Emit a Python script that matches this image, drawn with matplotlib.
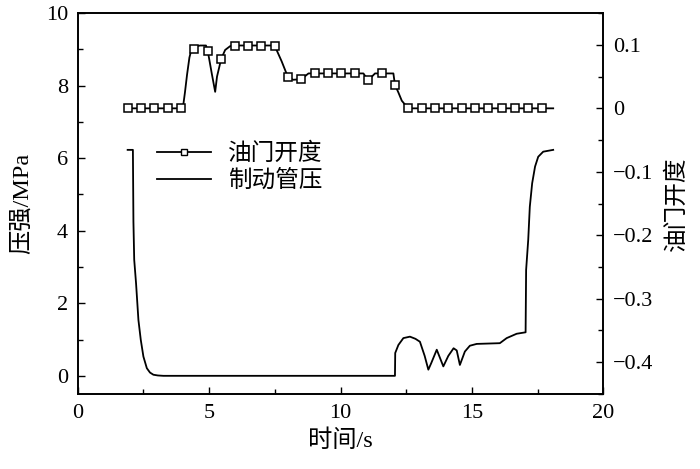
import numpy as np
import matplotlib
matplotlib.use("Agg")
import matplotlib.pyplot as plt
from matplotlib.ticker import MultipleLocator

plt.rcParams['font.family'] = ['Liberation Serif', 'Noto Sans CJK SC']
plt.rcParams['axes.unicode_minus'] = True

# ---------------- data ----------------
# brake pipe pressure (MPa)
press_t = [1.9, 2.1, 2.12, 2.15, 2.22, 2.31, 2.4, 2.5, 2.63, 2.75, 2.88, 3.05, 3.26,
           12.07, 12.08, 12.2, 12.39, 12.64, 12.85, 13.02, 13.2, 13.34, 13.45, 13.66,
           13.91, 14.1, 14.3, 14.42, 14.54, 14.73, 14.92, 15.18, 16.06, 16.32, 16.7,
           17.04, 17.06, 17.14, 17.2, 17.29, 17.4, 17.52, 17.71, 18.09]
press_v = [6.23, 6.23, 4.25, 3.2, 2.55, 1.54, 0.99, 0.53, 0.21, 0.09, 0.03, 0.01, 0.0,
           0.0, 0.63, 0.85, 1.04, 1.08, 1.02, 0.94, 0.55, 0.17, 0.35, 0.72,
           0.26, 0.55, 0.76, 0.7, 0.3, 0.67, 0.83, 0.88, 0.9, 1.04, 1.16,
           1.2, 2.92, 3.75, 4.66, 5.31, 5.77, 6.04, 6.18, 6.23]

# throttle opening, sampled points (shown with markers)
thr_mark_t = [1.9, 2.41, 2.92, 3.42, 3.93, 4.44, 4.95, 5.46, 5.97, 6.47, 6.98, 7.49,
              8.0, 8.51, 9.02, 9.52, 10.03, 10.54, 11.05, 11.56, 12.07, 12.57, 13.08,
              13.59, 14.1, 14.61, 15.12, 15.62, 16.13, 16.64, 17.15, 17.66]
thr_mark_v = [0, 0, 0, 0, 0, 0.093, 0.09, 0.078, 0.099, 0.099, 0.099, 0.099,
              0.049, 0.046, 0.055, 0.055, 0.055, 0.055, 0.044, 0.055, 0.037, 0, 0,
              0, 0, 0, 0, 0, 0, 0, 0, 0]
# throttle opening, points between the markers
thr_line_t = [4.0, 4.08, 4.16, 4.25, 4.34, 4.55, 4.66, 4.88, 5.1, 5.23, 5.3, 5.61, 5.8,
              7.76, 8.2, 8.78, 10.87, 11.31, 12.01, 12.2, 12.33, 18.09]
thr_line_v = [0, 0.025, 0.053, 0.08, 0.095, 0.098, 0.099, 0.099, 0.055, 0.026, 0.05,
              0.092, 0.098, 0.074, 0.045, 0.055, 0.055, 0.055, 0.055, 0.025, 0.012, 0]

thr_t = np.array(thr_mark_t + thr_line_t)
thr_v = np.array(thr_mark_v + thr_line_v)
order = np.argsort(thr_t, kind='stable')
thr_t, thr_v = thr_t[order], thr_v[order]

# ---------------- plot ----------------
fig, ax1 = plt.subplots(figsize=(7.0, 4.69), dpi=100)
fig.subplots_adjust(left=0.111, right=0.862, top=0.972, bottom=0.16)
ax2 = ax1.twinx()

p_line, = ax1.plot(press_t, press_v, color='black', lw=1.3)

ax2.plot(thr_t, thr_v, color='black', lw=1.3)
ax2.plot(thr_mark_t, thr_mark_v, ls='none', marker='s', ms=6,
         mfc='white', mec='black', mew=1.1)
# legend proxy for the throttle curve
t_handle, = ax2.plot([], [], color='black', lw=1.3, marker='s', ms=5,
                     mfc='white', mec='black', mew=1.0)

ax1.set_xlim(0, 20)
ax1.set_ylim(-0.5, 10)
ax2.set_ylim(-0.45, 0.15)

ax1.xaxis.set_major_locator(MultipleLocator(5))
ax1.xaxis.set_minor_locator(MultipleLocator(2.5))
ax1.yaxis.set_major_locator(MultipleLocator(2))
ax1.yaxis.set_minor_locator(MultipleLocator(1))
ax2.yaxis.set_major_locator(MultipleLocator(0.1))
ax2.yaxis.set_minor_locator(MultipleLocator(0.05))

ax1.tick_params(which='both', direction='in', top=False, right=False,
                labelsize=16, pad=7)
ax1.tick_params(which='major', length=5, width=1)
ax1.tick_params(which='minor', length=3.5, width=1)
ax2.tick_params(which='both', direction='in', labelsize=16, pad=7)
ax2.tick_params(which='major', length=5, width=1)
ax2.tick_params(which='minor', length=3.5, width=1)

ax2.yaxis.set_major_formatter(plt.FuncFormatter(
    lambda v, pos: '0' if abs(v) < 1e-9 else ('%.1f' % v).replace('-', '\u2212')))

for ax in (ax1, ax2):
    for s in ax.spines.values():
        s.set_linewidth(1.2)

ax1.set_xlabel('时间/s', fontsize=17.5, labelpad=5)
ax1.set_ylabel('压强/MPa', fontsize=17.5, labelpad=9)
ax2.set_ylabel('油门开度', fontsize=17, labelpad=9)

ax2.legend([t_handle, p_line], ['油门开度', '制动管压'], loc='upper left',
           bbox_to_anchor=(0.151, 0.66), frameon=False, fontsize=17,
           handlelength=2.3, handletextpad=0.7, labelspacing=0.2,
           borderpad=0, borderaxespad=0, numpoints=1)

plt.savefig('out.png', dpi=100)
